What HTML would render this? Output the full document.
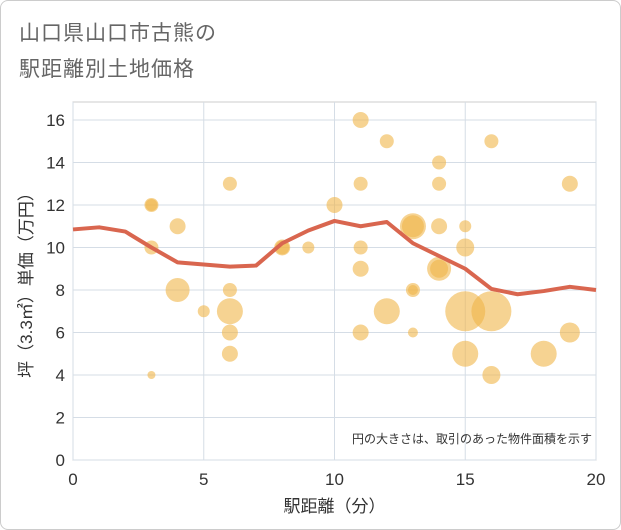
<!DOCTYPE html>
<html><head><meta charset="utf-8"><style>
body{margin:0;background:#fff;}
#wrap{position:relative;width:619px;height:528px;border:1px solid #ccc;border-radius:8px;overflow:hidden;font-family:"Liberation Sans","Noto Sans CJK JP",sans-serif;}
.title{position:absolute;left:18px;font-size:21px;color:#666;letter-spacing:1px;}
</style></head><body>
<div id="wrap">
<div class="title" style="top:16px">山口県山口市古熊の</div>
<div class="title" style="top:52px">駅距離別土地価格</div>
<svg id="chart" width="621" height="530" style="position:absolute;left:-1px;top:-1px"></svg>
</div>
<script>
const bubbleX=[3,3,3,3,4,4,5,6,6,6,6,6,8,8,9,10,11,11,11,11,11,12,12,13,13,13,13,13,14,14,14,14,14,15,15,15,15,16,16,16,18,19,19];
const bubbleY=[12,12,10,4,11,8,7,13,8,7,6,5,10,10,10,12,16,13,10,9,6,15,7,11,11,8,8,6,14,13,11,9,9,11,10,7,5,15,7,4,5,13,6];
const bubbleR=[7,6,7,4,8,12,6,7,7,13,8,8,8,7,6,8,8,7,7,8,8,7,13,13,11,7,5,5,7,7,8,12,9,6,9,20,13,7,20,9,13,8,10];
const lineX=[0,1,2,3,4,5,6,7,8,9,10,11,12,13,14,15,16,17,18,19,20];
const lineY=[10.85,10.95,10.75,10.0,9.3,9.2,9.1,9.15,10.2,10.8,11.25,11.0,11.2,10.2,9.6,9.0,8.05,7.8,7.95,8.15,8.0];
const xTicks=[0,5,10,15,20];
const yTicks=[0,2,4,6,8,10,12,14,16];
const NS="http://www.w3.org/2000/svg";
const svg=document.getElementById('chart');
const L=73,R=596,T=102,B=460;
const sx=v=>L+(R-L)*v/20, sy=v=>B-(B-120)*v/16;
function mk(t,a){const e=document.createElementNS(NS,t);for(const k in a)e.setAttribute(k,a[k]);svg.appendChild(e);return e;}
mk('rect',{x:L,y:T,width:R-L,height:B-T,fill:'none',stroke:'#ccc'});
yTicks.forEach(v=>{const g=mk('line',{x1:L,x2:R,y1:sy(v),y2:sy(v),stroke:'#d5dde6'});

const t=mk('text',{x:L-8,y:sy(v)+6,'text-anchor':'end','font-size':17,fill:'#333'});t.textContent=v;
});
xTicks.forEach(v=>{const g=mk('line',{x1:sx(v),x2:sx(v),y1:T,y2:B,stroke:'#d5dde6'});

const t=mk('text',{x:sx(v),y:B+25,'text-anchor':'middle','font-size':17,fill:'#333'});t.textContent=v;
});
bubbleX.forEach((x,i)=>{const c=mk('circle',{cx:sx(x),cy:sy(bubbleY[i]),r:bubbleR[i],fill:'#f0b54a','fill-opacity':0.6});
});
const p=mk('path',{d:lineX.map((x,i)=>(i?'L':'M')+sx(x)+','+sy(lineY[i])).join(''),fill:'none',stroke:'#d9664f','stroke-width':4,'stroke-linejoin':'round'});

const xt=mk('text',{x:(L+R)/2,y:512,'text-anchor':'middle','font-size':17,fill:'#333'});xt.textContent='駅距離（分）';

const yt=mk('text',{x:0,y:0,'text-anchor':'middle','font-size':17,fill:'#333',transform:`translate(32,${(T+B)/2}) rotate(-90)`});yt.textContent='坪（3.3㎡）単価（万円）';

const n=mk('text',{x:R-4,y:443,'text-anchor':'end','font-size':12,fill:'#333'});n.textContent='円の大きさは、取引のあった物件面積を示す';

</script>
</body></html>
